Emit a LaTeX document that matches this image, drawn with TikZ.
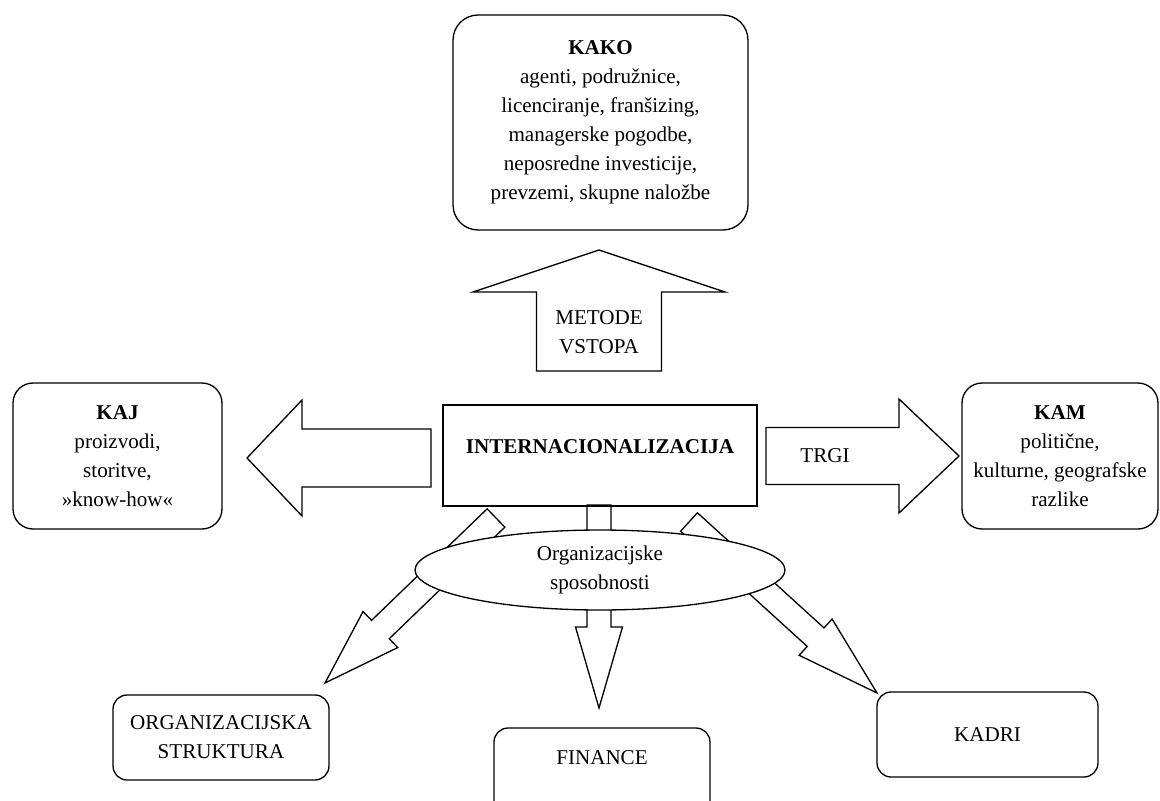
\documentclass[tikz,border=0pt]{standalone}
\usepackage{fontspec}
\setmainfont{Liberation Serif}
\usetikzlibrary{calc,shapes.geometric}

\begin{document}
\begin{tikzpicture}[x=0.02cm,y=-0.02cm,font=\fontsize{12}{16.5}\selectfont,line width=0.75pt]
\newcommand{\blockarrow}[5]{%
\coordinate (#1-base) at ($(#2)!#5!(#1)$);
\draw[blockarrow] ($(#1)!#3!90:(#2)$) -- ($(#1-base)!#3!90:(#2)$) -- ($(#1-base)!#4!90:(#2)$) -- (#2) -- ($(#1-base)!#4!-90:(#2)$) -- ($(#1-base)!#3!-90:(#2)$) -- ($(#1)!#3!-90:(#2)$) -- cycle;}
\tikzstyle{box}=[draw,rounded corners=0.28cm,align=center,inner sep=0pt]
\tikzstyle{bigbox}=[box,rounded corners=0.5cm]
\tikzstyle{sidebox}=[box,rounded corners=0.4cm]
\tikzstyle{mainbox}=[draw,inner sep=0pt]
\tikzstyle{blockarrow}=[draw,fill=white]
\tikzstyle{oval}=[draw,ellipse,fill=white,align=center,inner sep=0pt]
\clip (0,0) rectangle (1160,801);
\coordinate (kako-tail) at (599,371);
\coordinate (kako-tip) at (599,250);
\coordinate (kaj-tail) at (431,458);
\coordinate (kaj-tip) at (247,458);
\coordinate (kam-tail) at (766,456);
\coordinate (kam-tip) at (959,456);
\coordinate (struct-tail) at (496,518);
\coordinate (struct-tip) at (325,683);
\coordinate (fin-tail) at (599,505);
\coordinate (fin-tip) at (599,708);
\coordinate (kadri-tail) at (689,522);
\coordinate (kadri-tip) at (877,693);
\blockarrow{kako-tail}{kako-tip}{1.25cm}{2.52cm}{0.84cm}
\blockarrow{kaj-tail}{kaj-tip}{0.58cm}{1.16cm}{1.1cm}
\blockarrow{kam-tail}{kam-tip}{0.57cm}{1.14cm}{1.2cm}
\blockarrow{struct-tail}{struct-tip}{0.255cm}{0.5cm}{1.54cm}
\blockarrow{fin-tail}{fin-tip}{0.24cm}{0.47cm}{1.62cm}
\blockarrow{kadri-tail}{kadri-tip}{0.25cm}{0.49cm}{1.66cm}
\node[align=center] (metode) at (599,332.5) {METODE\\VSTOPA};
\node (trgi) at (825,456) {TRGI};
\node[oval,minimum width=7.4cm,minimum height=1.6cm] (skills) at (600,570) {Organizacijske\\sposobnosti};
\node[bigbox,minimum width=5.9cm,minimum height=4.3cm] (kako) at (600.5,122.5) {\textbf{KAKO}\\agenti, podružnice,\\licenciranje, franšizing,\\managerske pogodbe,\\neposredne investicije,\\prevzemi, skupne naložbe};
\node[sidebox,minimum width=4.18cm,minimum height=2.92cm] (kaj) at (117.5,456) {\textbf{KAJ}\\proizvodi,\\storitve,\\»know-how«};
\node[sidebox,minimum width=3.92cm,minimum height=2.92cm] (kam) at (1060,456) {\textbf{KAM}\\politične,\\kulturne, geografske\\razlike};
\node[mainbox,minimum width=6.28cm,minimum height=2.02cm] (intl) at (600,455.5) {};
\node (intl-text) at (600,447) {\textbf{INTERNACIONALIZACIJA}};
\node[box,minimum width=4.32cm,minimum height=1.7cm] (struct) at (221,737.5) {ORGANIZACIJSKA\\STRUKTURA};
\node[box,minimum width=4.32cm,minimum height=2cm] (fin) at (602,778) {};
\node (fin-text) at (602,758) {FINANCE};
\node[box,minimum width=4.42cm,minimum height=1.7cm] (kadri) at (987.5,734.5) {KADRI};
\end{tikzpicture}
\end{document}
